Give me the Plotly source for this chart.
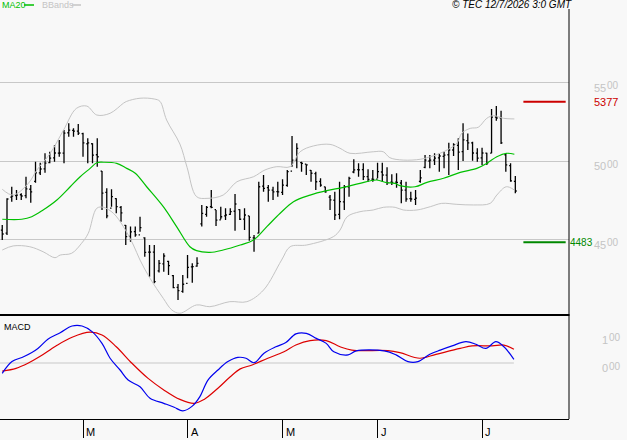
import plotly.graph_objects as go

# ---- price bars (trading-day index 0..108) ----
day = list(range(109))
opens = [4560,4541,4770,4780,4785,4780,4820,4870,4925,4950,4990,5020,5050,5050,5180,5195,5190,5175,5110,5110,
         5040,4935,4800,4700,4760,4705,4590,4520,4550,4530,4510,4420,4420,4300,4345,4360,4270,4195,4170,4220,
         4325,4330,4600,4660,4710,4690,4625,4650,4660,4680,4690,4630,4650,4510,4540,4840,4830,4815,4805,4800,
         4845,4935,5005,4990,4980,4940,4920,4870,4835,4770,4750,4660,4740,4835,4930,4945,4945,4900,4885,4885,
         4930,4910,4865,4865,4860,4815,4760,4755,4870,4960,5000,5005,5020,5030,5040,5070,5100,5060,5130,5115,
         5050,5020,5050,5050,5280,5275,5040,4970,4870]
highs = [4592,4762,4836,4815,4794,4900,4847,4996,4989,5049,5059,5102,5134,5197,5240,5208,5236,5180,5145,5113,
         5145,4936,4826,4820,4762,4713,4592,4582,4582,4645,4514,4465,4465,4369,4412,4365,4274,4217,4274,4401,
         4348,4387,4720,4713,4815,4688,4709,4699,4699,4790,4692,4699,4650,4529,4868,4911,4847,4836,4868,4883,
         4943,5159,5113,4996,4979,4943,4932,4890,4836,4783,4804,4868,4847,4900,5011,4985,4985,4947,4943,4989,
         4989,4960,4915,4922,4879,4868,4804,4815,4943,5038,5038,5049,5049,5059,5117,5113,5145,5240,5176,5123,
         5081,5085,5053,5331,5350,5320,5049,4985,4904]
lows = [4497,4529,4741,4752,4752,4762,4734,4862,4911,4925,4985,4996,5027,4985,5155,5155,5166,5027,4985,4985,
        4964,4688,4635,4709,4667,4613,4465,4486,4518,4550,4390,4263,4221,4289,4295,4274,4189,4115,4161,4253,
        4225,4327,4582,4645,4699,4586,4629,4624,4656,4556,4624,4560,4492,4422,4539,4804,4741,4752,4773,4783,
        4836,4964,4954,4932,4911,4868,4815,4836,4798,4688,4624,4629,4688,4773,4922,4900,4879,4868,4868,4890,
        4868,4847,4847,4830,4731,4741,4741,4720,4862,4954,4954,4975,4932,4954,4911,5032,4943,5000,5070,5002,
        4996,4975,4975,5049,5257,5108,4932,4868,4794]
closes = [4535,4758,4777,4783,4777,4822,4803,4924,4949,4987,5019,5051,5051,5178,5197,5191,5178,5115,5115,5038,
          5027,4796,4650,4773,4709,4669,4518,4548,4529,4575,4418,4420,4231,4348,4395,4333,4193,4174,4215,4323,
          4327,4348,4667,4705,4705,4624,4645,4656,4677,4726,4629,4656,4514,4508,4836,4826,4815,4804,4804,4847,
          4932,5006,5081,4985,4975,4922,4868,4847,4804,4752,4656,4741,4836,4890,4943,4943,4900,4883,4883,4932,
          4911,4862,4864,4864,4815,4758,4758,4764,4892,5006,5006,5019,5032,5038,5070,5102,5057,5134,5115,5051,
          5019,5051,4987,5280,5274,5115,4975,4873,4809]

# ---- MA20 ----
ma_x = [0,4.1,6.2,8.6,11.5,14.3,16.4,18.5,19.9,21.3,24.1,26.2,28,30.4,33.9,36.7,39.5,40.9,43.7,46.5,50.1,52.9,
        55.7,58.5,61.3,64.8,68.3,71.8,75.3,78.8,80.9,82.7,83.7,86.9,89.4,92.9,96.4,99.9,102,104.1,106.1,107.8]
ma_y = [4629,4629,4645,4688,4752,4836,4900,4953,4989,4992,4985,4953,4922,4836,4709,4582,4454,4429,4418,4433,4465,4497,
        4582,4667,4741,4783,4811,4832,4858,4879,4862,4858,4843,4836,4864,4890,4928,4953,4985,5027,5049,5043]

# ---- Bollinger bands ----
up_x = [0,2.3,5.5,7.3,10.1,12.9,15.6,17.8,19.9,22.7,25.5,26.2,29,32,33.2,34.6,37.4,38.9,40.9,43.1,46.5,49.4,52.9,55.3,
        57.8,60.6,62.7,65.5,69,71.1,73.2,78.1,80.2,81.6,84.4,88,90.1,92.9,95.7,96.7,98.5,100.2,102,103.4,105.5,107.8]
up_y = [4820,4783,4858,4943,5049,5197,5335,5350,5293,5304,5368,5380,5400,5395,5380,5261,5108,4960,4773,4762,4783,4868,
        4900,4943,4964,4964,5059,5096,5106,5081,5049,5059,5059,5021,5006,5011,5027,5059,5113,5176,5208,5215,5272,5289,
        5272,5268]
lo_x = [0,2.3,5.8,8.6,11.1,12.2,14.6,16.7,18.1,19.9,21.3,23.4,25.5,27.6,29,31.1,33.9,35.7,37.4,40.9,43.7,47.9,51.5,
        55,58.8,60.6,64.1,69.7,71.1,72.6,75.3,78.1,80.2,82.7,84.4,87.3,90.1,92.5,95.7,99.2,102.7,104.1,106.1,107.8]
lo_y = [4433,4459,4454,4422,4384,4401,4412,4476,4539,4699,4705,4667,4582,4465,4369,4253,4125,4051,4030,4083,4072,4104,
        4104,4178,4369,4454,4465,4518,4560,4645,4677,4688,4705,4705,4688,4688,4709,4730,4724,4720,4730,4783,4836,4815]

# ---- MACD ----
macd_x = [0,2.05,4.6,7.5,9.6,12.2,14.7,16.8,18.9,21,22.7,24.8,26.5,29,31.1,34,36.2,38,40,41.6,43.3,45.4,47.5,49.6,51.3,
          53,55.1,57.6,59.7,61.8,64,66.1,68.2,69.8,72.8,74.5,80.4,82.9,85.4,87.5,90,92.2,94.7,97.6,99.7,101.8,103.9,
          105.6,107.7]
macd_y = [-37,5,23,52,85,108,132,132,112,70,17,-25,-61,-85,-126,-144,-158,-171,-154,-120,-61,-25,5,20,17,
          1,35,58,73,104,106,88,70,40,29,43,43,29,5,5,31,46,61,76,67,52,76,58,13]
sig_x = [0,2.9,5.4,7.9,11.3,14.7,18.5,21,24,27.3,30.7,34,37.4,40.4,42.5,45.4,48,50.1,52.6,55.9,59.3,61.8,64.8,68.2,
         71.1,73.6,81.2,83.7,87.9,91.3,96.4,98.9,103.1,105.6,107.7]
sig_y = [-29,-19,-1,23,61,92,110,100,58,-1,-55,-96,-130,-144,-130,-90,-49,-21,-7,17,40,64,80,80,
         58,46,44,37,17,31,52,61,61,64,49]

resistance = 5377
support = 4483
price_ticks = [4500, 5000, 5500]
macd_ticks = [0, 100]
month_ticks = [17, 39, 59, 79, 101]
month_labels = ["M", "A", "M", "J", "J"]

BG = "#f8f8f8"
GRID = "#c8c8c8"
LBL = "#c4c4c4"
W, H = 627, 440
XR = [-0.474, 119.3]
PX = lambda px: px / W
PY = lambda py: 1 - py / H

fig = go.Figure()
fig.add_trace(go.Scatter(x=up_x, y=up_y, mode="lines", line=dict(color="#c4c4c4", width=1, shape="spline"),
                         xaxis="x", yaxis="y", hoverinfo="skip"))
fig.add_trace(go.Scatter(x=lo_x, y=lo_y, mode="lines", line=dict(color="#c4c4c4", width=1, shape="spline"),
                         xaxis="x", yaxis="y", hoverinfo="skip"))
fig.add_trace(go.Scatter(x=ma_x, y=ma_y, mode="lines", line=dict(color="#00c000", width=1.2, shape="spline"),
                         xaxis="x", yaxis="y", hoverinfo="skip"))
fig.add_trace(go.Ohlc(x=day, open=opens, high=highs, low=lows, close=closes, tickwidth=0.3,
                      increasing=dict(line=dict(color="black", width=1.3)),
                      decreasing=dict(line=dict(color="black", width=1.3)),
                      xaxis="x", yaxis="y", hoverinfo="skip"))
fig.add_trace(go.Scatter(x=[XR[0], macd_x[-1]], y=[0, 0], mode="lines", line=dict(color=GRID, width=1),
                         xaxis="x2", yaxis="y2", hoverinfo="skip"))
fig.add_trace(go.Scatter(x=sig_x, y=sig_y, mode="lines", line=dict(color="#dd0000", width=1.2, shape="spline"),
                         xaxis="x2", yaxis="y2", hoverinfo="skip"))
fig.add_trace(go.Scatter(x=macd_x, y=macd_y, mode="lines", line=dict(color="#0000ee", width=1.2, shape="spline"),
                         xaxis="x2", yaxis="y2", hoverinfo="skip"))

# support / resistance lines
fig.add_trace(go.Scatter(x=[109.7, 118.6], y=[resistance, resistance], mode="lines",
                         line=dict(color="#cc0000", width=2), xaxis="x", yaxis="y", hoverinfo="skip"))
fig.add_trace(go.Scatter(x=[109.7, 118.6], y=[support, support], mode="lines",
                         line=dict(color="#008800", width=2), xaxis="x", yaxis="y", hoverinfo="skip"))

dom_split = PY(315)
fig.update_layout(
    width=W, height=H, margin=dict(l=0, r=0, t=0, b=0),
    paper_bgcolor=BG, plot_bgcolor=BG, showlegend=False,
    font=dict(family="Liberation Sans, Arial, sans-serif", size=10, color="black"),
    xaxis=dict(domain=[0, PX(569)], range=XR, showticklabels=False, showgrid=False, zeroline=False,
               anchor="y", fixedrange=True, rangeslider=dict(visible=False)),
    xaxis2=dict(domain=[0, PX(569)], range=XR, showticklabels=False, showgrid=False, zeroline=False,
                anchor="y2", tickvals=month_ticks, ticks="outside", ticklen=18, tickcolor="black", tickwidth=1,
                showline=True, linecolor="black", linewidth=1, fixedrange=True),
    yaxis=dict(domain=[dom_split, PY(10)], range=[4019, 5962], tickvals=price_ticks, showgrid=True,
               gridcolor=GRID, gridwidth=1, showticklabels=False, zeroline=False, anchor="x", fixedrange=True),
    yaxis2=dict(domain=[PY(419), dom_split], range=[-200, 171.4], showgrid=False, showticklabels=False,
                zeroline=False, anchor="x2", fixedrange=True),
)

shapes = [
    dict(type="line", xref="paper", yref="paper", x0=0, x1=PX(569.5), y0=PY(315), y1=PY(315),
         line=dict(color="black", width=2)),
    dict(type="line", xref="paper", yref="paper", x0=PX(569), x1=PX(569), y0=PY(9), y1=PY(419),
         line=dict(color="black", width=1)),
    dict(type="line", xref="paper", yref="paper", x0=PX(24), x1=PX(34), y0=PY(5), y1=PY(5),
         line=dict(color="#00c000", width=1.5)),
    dict(type="line", xref="paper", yref="paper", x0=PX(72), x1=PX(81), y0=PY(5), y1=PY(5),
         line=dict(color="#c4c4c4", width=1.5)),
]
fig.update_layout(shapes=shapes)

ann = []
ann.append(dict(text="MA20", x=PX(0), y=PY(5), xref="paper", yref="paper", xanchor="left", yanchor="middle",
                showarrow=False, font=dict(size=9, color="#00c000")))
ann.append(dict(text="BBands", x=PX(40), y=PY(5), xref="paper", yref="paper", xanchor="left", yanchor="middle",
                showarrow=False, font=dict(size=9, color="#c4c4c4")))
ann.append(dict(text="<i>© TEC 12/7/2026 3:0 GMT</i>", x=PX(574), y=PY(5), xref="paper", yref="paper",
                xanchor="right", yanchor="middle", showarrow=False, font=dict(size=10, color="black")))
ann.append(dict(text="MACD", x=PX(2), y=PY(327), xref="paper", yref="paper", xanchor="left", yanchor="middle",
                showarrow=False, font=dict(size=9, color="black")))
for v in price_ticks:
    s = str(v)
    ann.append(dict(text=s[:2], x=PX(592), y=v, xref="paper", yref="y", xanchor="left", yanchor="middle",
                    yshift=-5, showarrow=False, font=dict(size=11, color=LBL)))
    ann.append(dict(text=s[2:], x=PX(605), y=v, xref="paper", yref="y", xanchor="left", yanchor="middle",
                    yshift=-3, showarrow=False, font=dict(size=10, color=LBL)))
for v in macd_ticks:
    s = "%d" % (v // 100)
    ann.append(dict(text=s, x=PX(600), y=v, xref="paper", yref="y2", xanchor="left", yanchor="middle",
                    yshift=-5, showarrow=False, font=dict(size=11, color=LBL)))
    ann.append(dict(text="00", x=PX(607), y=v, xref="paper", yref="y2", xanchor="left", yanchor="middle",
                    yshift=-3, showarrow=False, font=dict(size=10, color=LBL)))
ann.append(dict(text=str(resistance), x=PX(592), y=resistance, xref="paper", yref="y", xanchor="left",
                yanchor="middle", showarrow=False, font=dict(size=11, color="#cc0000")))
ann.append(dict(text=str(support), x=PX(568), y=support, xref="paper", yref="y", xanchor="left",
                yanchor="middle", showarrow=False, font=dict(size=10, color="#008800")))
for t, lab in zip(month_ticks, month_labels):
    ann.append(dict(text=lab, x=t, y=PY(432), xref="x2", yref="paper", xanchor="left", yanchor="middle",
                    xshift=1, showarrow=False, font=dict(size=11, color="black")))
fig.update_layout(annotations=ann)

fig.write_html("out.html")
